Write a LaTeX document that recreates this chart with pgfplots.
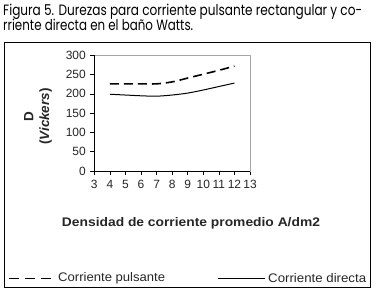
\documentclass[border=0pt]{standalone}
\usepackage{pgfplots}
\pgfplotsset{compat=1.18}
\usepackage{fontspec}
\setmainfont{Liberation Sans}
\newfontfamily\titlefont{Poppins}
\usepackage{graphicx}

\pgfplotstableread{
x y
4 226
5 226
6 226
7 226
8 231
9 241
10 251
11 261
12 272
}\pulsante
\pgfplotstableread{
x y
4 199
5 197
6 195
7 194
8 197
9 202
10 210
11 219
12 228
}\directa

\begin{document}
\begin{tikzpicture}[x=1bp,y=1bp]
\useasboundingbox (0,0) rectangle (376,296);
% title
\node[anchor=base west, inner sep=0] at (3,280) {\resizebox{359bp}{\height}{\titlefont\fontsize{15}{16}\selectfont Figura 5. Durezas para corriente pulsante rectangular y co-}};
\node[anchor=base west, inner sep=0] at (3,265) {\resizebox{190bp}{\height}{\titlefont\fontsize{15}{16}\selectfont rriente directa en el baño Watts.}};
% frame
\draw[black, line width=0.9bp] (4,9) rectangle (370,254);
\begin{axis}[
  at={(94.3bp,125bp)}, anchor=south west,
  scale only axis, width=155.7bp, height=115.7bp,
  xmin=3, xmax=13, ymin=0, ymax=300,
  xtick={3,4,...,13}, ytick={0,50,...,300},
  tick align=outside, tick pos=left,
  major tick length=4bp,
  axis line style={draw=gray!70, line width=0.8bp},
  tick style={black, line width=0.7bp},
  /pgf/number format/assume math mode=true,
  ticklabel style={font=\fontsize{12}{12}\selectfont, text=black!85},
  xticklabel style={yshift=-2bp},
  yticklabel style={xshift=-1bp},
  clip=false,
]
\draw[black, line width=0.8bp] (rel axis cs:0,1) -- (rel axis cs:0,0) -- (rel axis cs:1,0);
\addplot[black, line width=1.6bp, dash pattern=on 9bp off 5bp, smooth] table {\pulsante};
\addplot[black, line width=1bp, smooth] table {\directa};
\end{axis}
% axis labels
\node[text=black!85, inner sep=0] at (191,73) {\resizebox{258bp}{\height}{\bfseries\fontsize{12.5}{13}\selectfont Densidad de corriente promedio A/dm2}};
\node[rotate=90, align=center, font=\bfseries\fontsize{13.5}{16}\selectfont, text=black!85] at (38,179.5) {D\\(\textit{Vickers})};
% legend
\draw[black, line width=0.9bp, dash pattern=on 10bp off 6bp] (9,18) -- (51,18);
\node[anchor=west, inner sep=0, text=black!85] at (58,18) {\resizebox{107bp}{\height}{\fontsize{12.5}{13}\selectfont Corriente pulsante}};
\draw[black, line width=0.9bp] (218,18) -- (265,18);
\node[anchor=west, inner sep=0, text=black!85] at (268,18) {\resizebox{98bp}{\height}{\fontsize{12.5}{13}\selectfont Corriente directa}};
\end{tikzpicture}
\end{document}
